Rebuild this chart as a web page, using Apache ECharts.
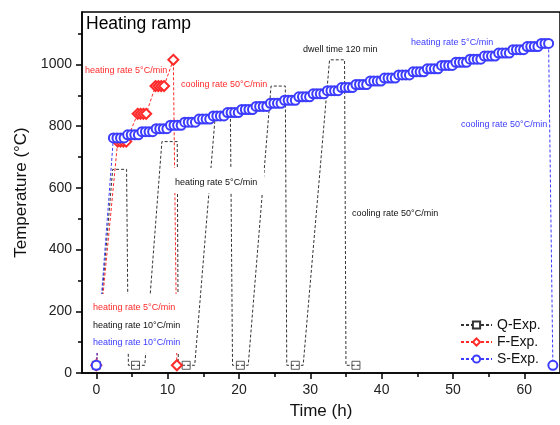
<!DOCTYPE html>
<html>
<head>
<meta charset="utf-8">
<script src="https://cdn.jsdelivr.net/npm/echarts@6/dist/echarts.min.js"></script>
<style>html,body{margin:0;padding:0;background:#fff}#c{width:560px;height:425px}</style>
</head>
<body>
<div id="c"></div>
<script>
// ---- data ----
const xTicks = [0, 10, 20, 30, 40, 50, 60];
const xMinorTicks = [5, 15, 25, 35, 45, 55];
const yTicks = [0, 200, 400, 600, 800, 1000];
const yMinorTicks = [100, 300, 500, 700, 900, 1100];

// Q-Exp path
const qTime = [0, 2.3, 4.25, 4.5, 6.8, 9.2, 11.35, 11.5, 13.8, 16.7, 18.8, 19.1, 21.3, 24.5, 26.5, 26.7, 29.0, 32.7, 34.8, 35.0, 37.1];
const qTemp = [25, 660, 660, 25, 25, 750, 750, 25, 25, 840, 840, 25, 25, 930, 930, 25, 25, 1015, 1015, 25, 25];
// Q-Exp sample points (squares)
const qMarkTime = [0, 5.5, 12.6, 20.2, 27.9, 36.4];
const qMarkTemp = [25, 25, 25, 25, 25, 25];

// F-Exp
const fTime = [0, 3.0, 3.4, 3.8, 4.2, 5.8, 6.2, 6.6, 7.0, 8.3, 8.7, 9.1, 9.5, 10.8, 11.3];
const fTemp = [25, 750, 750, 750, 750, 840, 840, 840, 840, 930, 930, 930, 930, 1015, 25];

// S-Exp
const sTime = [0,
  2.4, 2.9, 3.4, 3.9, 4.4, 4.9, 5.4, 5.9, 6.4, 6.9, 7.4, 7.9, 8.4, 8.9, 9.4, 9.9,
  10.4, 10.9, 11.4, 11.9, 12.4, 12.9, 13.4, 13.9, 14.4, 14.9, 15.4, 15.9, 16.4, 16.9, 17.4, 17.9,
  18.4, 18.9, 19.4, 19.9, 20.4, 20.9, 21.4, 21.9, 22.4, 22.9, 23.4, 23.9, 24.4, 24.9, 25.4, 25.9,
  26.4, 26.9, 27.4, 27.9, 28.4, 28.9, 29.4, 29.9, 30.4, 30.9, 31.4, 31.9, 32.4, 32.9, 33.4, 33.9,
  34.4, 34.9, 35.4, 35.9, 36.4, 36.9, 37.4, 37.9, 38.4, 38.9, 39.4, 39.9, 40.4, 40.9, 41.4, 41.9,
  42.4, 42.9, 43.4, 43.9, 44.4, 44.9, 45.4, 45.9, 46.4, 46.9, 47.4, 47.9, 48.4, 48.9, 49.4, 49.9,
  50.4, 50.9, 51.4, 51.9, 52.4, 52.9, 53.4, 53.9, 54.4, 54.9, 55.4, 55.9, 56.4, 56.9, 57.4, 57.9,
  58.4, 58.9, 59.4, 59.9, 60.4, 60.9, 61.4, 61.9, 62.4, 62.9, 63.4,
  64.0];
const sTemp = [25,
  762, 762, 762, 762, 772, 772, 772, 772, 782, 782, 782, 782, 792, 792, 792, 792,
  803, 803, 803, 803, 813, 813, 813, 813, 823, 823, 823, 823, 833, 833, 833, 833,
  844, 844, 844, 844, 854, 854, 854, 854, 864, 864, 864, 864, 874, 874, 874, 874,
  884, 884, 884, 884, 895, 895, 895, 895, 905, 905, 905, 905, 915, 915, 915, 915,
  925, 925, 925, 925, 935, 935, 935, 935, 946, 946, 946, 946, 956, 956, 956, 956,
  966, 966, 966, 966, 976, 976, 976, 976, 986, 986, 986, 986, 997, 997, 997, 997,
  1007, 1007, 1007, 1007, 1017, 1017, 1017, 1017, 1027, 1027, 1027, 1027, 1037, 1037, 1037, 1037,
  1048, 1048, 1048, 1048, 1058, 1058, 1058, 1058, 1068, 1068, 1068,
  25];

const zip = (a, b) => a.map((v, i) => [v, b[i]]);

const FONT = 'Liberation Sans, Arial, sans-serif';
const RED = '#ff2a2a', BLUE = '#3c3cff', GRAY = '#333';

const chart = echarts.init(document.getElementById('c'), null, {renderer: 'canvas'});

const txt = (text, x, y, fill, size) => ({
  type: 'text', z: 110, x: x, y: y,
  style: {text: text, fill: fill, font: size + 'px ' + FONT, textVerticalAlign: 'middle'}
});
const plain = v => String(v);

chart.setOption({
  animation: false,
  backgroundColor: '#fff',
  grid: {left: 82, right: -4, top: 12, bottom: 52, show: true, borderColor: '#000', borderWidth: 1.5, containLabel: false},
  legend: {
    orient: 'vertical', left: 455, top: 313, itemWidth: 31, itemHeight: 9, itemGap: 3,
    data: ['Q-Exp.', 'F-Exp.', 'S-Exp.'],
    textStyle: {fontFamily: FONT, fontSize: 14, color: '#111'}
  },
  xAxis: [{
    type: 'value', min: -2, max: 65, position: 'bottom',
    name: 'Time (h)', nameLocation: 'middle', nameGap: 30,
    nameTextStyle: {fontFamily: FONT, fontSize: 17, color: '#111'},
    axisLine: {show: true, onZero: false, lineStyle: {color: '#000', width: 1.5}},
    axisTick: {show: true, customValues: xTicks, length: 6, lineStyle: {color: '#000', width: 1.5}},
    axisLabel: {customValues: xTicks, formatter: plain, fontFamily: FONT, fontSize: 14, color: '#222', margin: 10},
    splitLine: {show: false}
  }, {
    type: 'value', min: -2, max: 65, position: 'bottom',
    axisLine: {show: false, onZero: false},
    axisTick: {show: true, customValues: xMinorTicks, length: 4, lineStyle: {color: '#000', width: 1.5}},
    axisLabel: {show: false},
    splitLine: {show: false}
  }],
  yAxis: [{
    type: 'value', min: 0, max: 1170, position: 'left',
    name: 'Temperature (°C)', nameLocation: 'middle', nameGap: 50,
    nameTextStyle: {fontFamily: FONT, fontSize: 17, color: '#111'},
    axisLine: {show: true, onZero: false, lineStyle: {color: '#000', width: 1.5}},
    axisTick: {show: true, customValues: yTicks, length: 6, lineStyle: {color: '#000', width: 1.5}},
    axisLabel: {customValues: yTicks, formatter: plain, fontFamily: FONT, fontSize: 14, color: '#222', margin: 10},
    splitLine: {show: false}
  }, {
    type: 'value', min: 0, max: 1170, position: 'left',
    axisLine: {show: false, onZero: false},
    axisTick: {show: true, customValues: yMinorTicks, length: 4, lineStyle: {color: '#000', width: 1.5}},
    axisLabel: {show: false},
    splitLine: {show: false}
  }],
  series: [{
    name: 'Q-Exp.', type: 'line', data: zip(qTime, qTemp),
    symbol: 'emptyRect', showSymbol: false, symbolSize: 8,
    lineStyle: {color: GRAY, width: 1, type: [3, 2]},
    itemStyle: {color: GRAY}
  }, {
    name: 'Q-Exp.', type: 'scatter', data: zip(qMarkTime, qMarkTemp),
    symbol: 'rect', symbolSize: 8,
    itemStyle: {color: '#fff', borderColor: GRAY, borderWidth: 1}
  }, {
    name: 'F-Exp.', type: 'line', data: zip(fTime, fTemp),
    symbol: 'emptyDiamond', symbolSize: 10,
    lineStyle: {color: RED, width: 1, type: [3, 2]},
    itemStyle: {color: RED, borderWidth: 1}
  }, {
    name: 'S-Exp.', type: 'line', data: zip(sTime, sTemp),
    symbol: 'emptyCircle', symbolSize: 9,
    lineStyle: {color: BLUE, width: 1, type: [3, 2]},
    itemStyle: {color: BLUE, borderWidth: 1}
  }],
  graphic: [
    txt('Heating ramp', 86, 24, '#000', 17.5),
    txt('heating rate 5°C/min', 85, 71, RED, 9),
    txt('cooling rate 50°C/min', 181, 85, RED, 9),
    txt('dwell time 120 min', 303, 50, '#111', 9),
    txt('heating rate 5°C/min', 411, 43, BLUE, 9),
    txt('cooling rate 50°C/min', 461, 125, BLUE, 9),
    {type: 'rect', z: 105, shape: {x: 170, y: 168, width: 94, height: 25}, style: {fill: '#fff'}},
    txt('heating rate 5°C/min', 175, 183, '#111', 9),
    txt('cooling rate 50°C/min', 352, 214, '#111', 9),
    {type: 'rect', z: 105, shape: {x: 84, y: 294, width: 102, height: 59}, style: {fill: '#fff'}},
    txt('heating rate 5°C/min', 93, 308, RED, 9),
    txt('heating rate 10°C/min', 93, 326, '#111', 9),
    txt('heating rate 10°C/min', 93, 343, BLUE, 9)
  ]
});
</script>
</body>
</html>
